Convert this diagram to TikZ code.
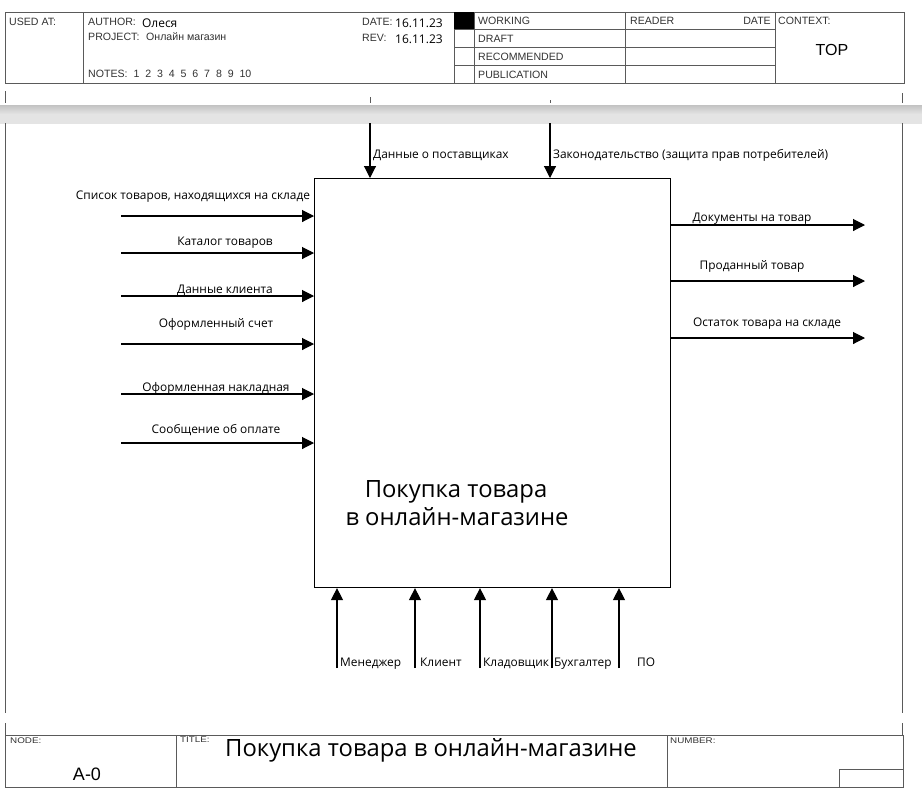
\documentclass[tikz,border=0pt]{standalone}
\usepackage{fontspec}
\setmainfont{Open Sans}
\newfontfamily\hdr{Liberation Sans}
\newfontfamily\hdrwide[FakeStretch=1.2]{Liberation Sans}
\usetikzlibrary{arrows.meta}
\definecolor{rule}{HTML}{5A5A5A}
\definecolor{hdtext}{HTML}{333333}
\definecolor{barhi}{HTML}{E4E4E4}
\definecolor{barlo}{HTML}{C2C2C2}

\begin{document}
\begin{tikzpicture}[x=1pt,y=-1pt,
  frame/.style={draw=rule, line width=1pt},
  flow/.style={draw=black, line width=1.1pt, -{Triangle[length=12pt,width=12pt]}},
  lbl/.style={inner sep=0pt, font=\fontsize{11.9}{13}\selectfont},
  big/.style={inner sep=0pt, font=\fontsize{23.8}{27}\selectfont},
  hd/.style={inner sep=0pt, text=hdtext, font=\hdr\fontsize{10.6}{12}\selectfont},
  hdsmall/.style={inner sep=0pt, text=hdtext, font=\hdrwide\fontsize{8.2}{10}\selectfont},
  val/.style={inner sep=0pt, font=\fontsize{12}{14}\selectfont}]

\useasboundingbox[fill=white] (0,0) rectangle (922,796);

% ---------- header block ----------
\draw[frame] (5,12) rectangle (904,83);
\draw[frame] (83,12) -- (83,83);
\draw[frame] (454,12) -- (454,83);
\draw[frame] (474,12) -- (474,83);
\draw[frame] (625,12) -- (625,83);
\draw[frame] (775,12) -- (775,83);
\foreach \yy in {29,47,65} \draw[frame] (454,\yy) -- (775,\yy);
\fill[black] (454,12) rectangle (474,29);

\node[hd, anchor=base west] (usedat) at (9,25) {USED AT:};
\node[hd, anchor=base west] (author) at (88,25) {AUTHOR:};
\node[val, anchor=base west] (authorv) at (142,27) {Олеся};
\node[hd, anchor=base west] (project) at (88,40) {PROJECT:};
\node[hd, anchor=base west] (projectv) at (146,40) {Онлайн магазин};
\node[hd, anchor=base west] (notes) at (88,77) {NOTES:\ \ 1\ \ 2\ \ 3\ \ 4\ \ 5\ \ 6\ \ 7\ \ 8\ \ 9\ \ 10};
\node[hd, anchor=base west] (date) at (362,25) {DATE:};
\node[val, anchor=base west] (datev) at (395,27) {16.11.23};
\node[hd, anchor=base west] (rev) at (362,41) {REV:};
\node[val, anchor=base west] (revv) at (395,43) {16.11.23};
\node[hd, anchor=base west] (working) at (478,24) {WORKING};
\node[hd, anchor=base west] (draft) at (478,42) {DRAFT};
\node[hd, anchor=base west] (recom) at (478,60) {RECOMMENDED};
\node[hd, anchor=base west] (publ) at (478,78) {PUBLICATION};
\node[hd, anchor=base west] (reader) at (630,24) {READER};
\node[hd, anchor=base east] (rdate) at (771,24) {DATE};
\node[hd, anchor=base west] (context) at (778,24) {CONTEXT:};
\node[inner sep=0pt, font=\hdr\fontsize{16}{18}\selectfont, anchor=base] (top) at (832,55) {TOP};

% ---------- frame sides and scroll band ----------
\draw[frame] (5,91) -- (5,103);
\draw[frame] (902,93) -- (902,103);
\draw[frame] (370,97) -- (370,103);
\draw[frame] (550,100) -- (550,103);
\shade[top color=barlo, bottom color=barhi, middle color=barhi] (0,105) rectangle (922,123);
\draw[frame] (5,123) -- (5,713);
\draw[frame] (902,123) -- (902,713);

% ---------- activity box ----------
\node[draw, line width=1.1pt, minimum width=356pt, minimum height=409pt,
      inner sep=0pt, anchor=north west] (A0) at (314,178) {};
\node[big, anchor=base] (A0a) at (456,497) {Покупка товара};
\node[big, anchor=base] (A0b) at (457,525) {в онлайн-магазине};

% controls
\coordinate (c1) at (370,123);
\coordinate (c2) at (550,123);
\draw[flow] (c1) -- (c1 |- A0.north);
\draw[flow] (c2) -- (c2 |- A0.north);
\node[lbl, anchor=base west] (c1l) at (373,158) {Данные о поставщиках};
\node[lbl, anchor=base west] (c2l) at (553,158) {Законодательство (защита прав потребителей)};

% inputs
\foreach \n/\yy in {1/216,2/253,3/296,4/344,5/394,6/443}{
  \coordinate (i\n) at (121,\yy);
  \draw[flow] (i\n) -- (i\n -| A0.west);
}
\node[lbl, anchor=base] (i1l) at (193,199) {Список товаров, находящихся на складе};
\node[lbl, anchor=base] (i2l) at (225,245) {Каталог товаров};
\node[lbl, anchor=base] (i3l) at (225,293) {Данные клиента};
\node[lbl, anchor=base] (i4l) at (216,327) {Оформленный счет};
\node[lbl, anchor=base] (i5l) at (216,391) {Оформленная накладная};
\node[lbl, anchor=base] (i6l) at (216,433) {Сообщение об оплате};

% outputs
\foreach \n/\yy in {1/225,2/281,3/338}{
  \coordinate (o\n) at (865,\yy);
  \draw[flow] (o\n -| A0.east) -- (o\n);
}
\node[lbl, anchor=base] (o1l) at (752,221) {Документы на товар};
\node[lbl, anchor=base] (o2l) at (752,269) {Проданный товар};
\node[lbl, anchor=base] (o3l) at (767,326) {Остаток товара на складе};

% mechanisms
\foreach \n/\xx in {1/337,2/415,3/480,4/552,5/619}{
  \coordinate (m\n) at (\xx,668);
  \draw[flow] (m\n) -- (m\n |- A0.south);
}
\node[lbl, anchor=base west] (m1l) at (340,666) {Менеджер};
\node[lbl, anchor=base west] (m2l) at (420,666) {Клиент};
\node[lbl, anchor=base west] (m3l) at (483,666) {Кладовщик};
\node[lbl, anchor=base west] (m4l) at (554,666) {Бухгалтер};
\node[lbl, anchor=base west] (m5l) at (637,666) {ПО};

% ---------- footer block ----------
\draw[frame] (5,723) -- (5,735);
\draw[frame] (902,723) -- (902,735);
\draw[frame] (5,735) rectangle (903,787);
\draw[frame] (176,735) -- (176,787);
\draw[frame] (667,735) -- (667,787);
\draw[frame] (839,787) -- (839,769) -- (903,769);
\node[hdsmall, anchor=base west] (nodelbl) at (10,743) {NODE:};
\node[hdsmall, anchor=base west] (titlelbl) at (180,742) {TITLE:};
\node[hdsmall, anchor=base west] (numlbl) at (670,743) {NUMBER:};
\node[inner sep=0pt, font=\hdr\fontsize{18}{20}\selectfont, anchor=base] (nodeid) at (87,780) {A-0};
\node[big, anchor=base] (title) at (431,756) {Покупка товара в онлайн-магазине};
\end{tikzpicture}
\end{document}
